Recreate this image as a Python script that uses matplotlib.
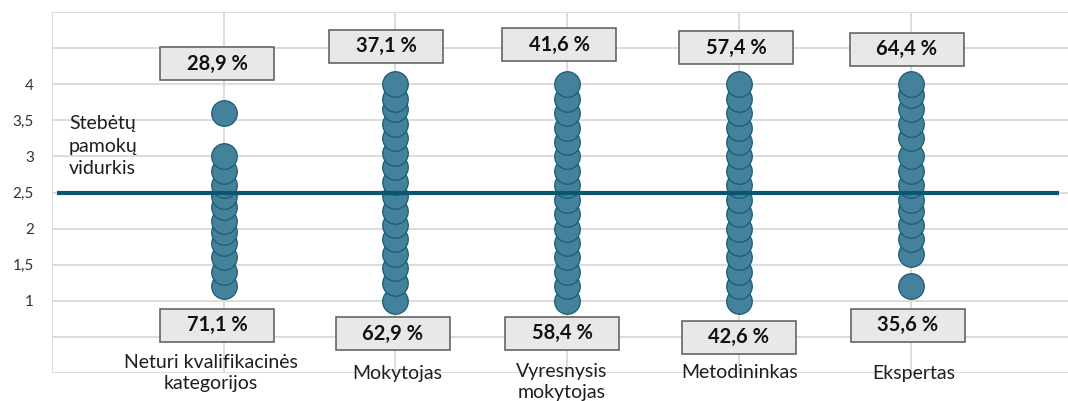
import matplotlib
matplotlib.use("Agg")
import matplotlib.pyplot as plt
from matplotlib.patches import Rectangle

# ---- data ----
categories = ["Neturi kvalifikacinės\nkategorijos", "Mokytojas",
              "Vyresnysis\nmokytojas", "Metodininkas", "Ekspertas"]

scores_neturi = [1.2, 1.4, 1.6, 1.8, 1.95, 2.1, 2.3, 2.45, 2.6, 2.8, 3.0, 3.6]
scores_mokytojas = [1.0, 1.25, 1.45, 1.65, 1.85, 2.05, 2.25, 2.45, 2.65,
                    2.85, 3.05, 3.25, 3.45, 3.65, 3.8, 4.0]
scores_vyresnysis = [1.0, 1.2, 1.4, 1.6, 1.8, 2.0, 2.2, 2.4, 2.6, 2.8,
                     3.0, 3.2, 3.4, 3.6, 3.8, 4.0]
scores_metodininkas = [1.0, 1.2, 1.4, 1.6, 1.8, 2.0, 2.2, 2.4, 2.6, 2.8,
                       3.0, 3.2, 3.4, 3.6, 3.8, 4.0]
scores_ekspertas = [1.2, 1.65, 1.85, 2.05, 2.25, 2.4, 2.6, 2.8, 3.0,
                    3.25, 3.45, 3.65, 3.85, 4.0]

share_above = [28.9, 37.1, 41.6, 57.4, 64.4]
share_below = [71.1, 62.9, 58.4, 42.6, 35.6]

average_score = 2.5
average_label = "Stebėtų\npamokų\nvidurkis"

y_ticks = [0, 0.5, 1, 1.5, 2, 2.5, 3, 3.5, 4, 4.5, 5]
y_tick_labels = ["", "", "1", "1,5", "2", "2,5", "3", "3,5", "4", "", ""]

# ---- layout ----
top_box_pos = [(-0.039, 4.285), (-0.055, 4.528), (-0.047, 4.549),
               (-0.016, 4.507), (-0.023, 4.486)]
bottom_box_pos = [(-0.039, 0.660), (-0.014, 0.542), (-0.030, 0.549),
                  (0.0, 0.493), (-0.015, 0.660)]
cat_label_pos = [(-0.076, 0.0), (0.012, -0.01), (-0.03, -0.13),
                 (0.006, 0.0), (0.017, 0.0)]
BOX_W, BOX_H = 0.664, 0.458

FILL = "#44819b"
EDGE = "#1c5b74"
LINE = "#0b5570"
GRID = "#d9d9d9"
TEXT = "#1e1e1e"
FONT = "Lato"

plt.rcParams["font.family"] = [FONT, "DejaVu Sans"]

fig = plt.figure(figsize=(10.68, 4.01), dpi=100)
ax = fig.add_axes([52 / 1068, 28 / 401, 1016 / 1068, 361 / 401])
ax.set_xlim(0, 1016 / 171.7)
ax.set_ylim(0, 5)

for s in ax.spines.values():
    s.set_visible(False)
ax.set_yticks(y_ticks)
ax.set_yticklabels(y_tick_labels, fontsize=11, color="#333333")
ax.set_xticks(range(0, 6))
ax.set_xticklabels([])
ax.tick_params(length=0, pad=13)
ax.grid(True, color=GRID, linewidth=1.3, zorder=0)
ax.set_axisbelow(True)

series = [scores_neturi, scores_mokytojas, scores_vyresnysis,
          scores_metodininkas, scores_ekspertas]
for i, vals in enumerate(series):
    xpos = i + 1
    for v in sorted(vals):
        ax.plot([xpos], [v], marker="o", markersize=18.4, linestyle="none",
                markerfacecolor=FILL, markeredgecolor=EDGE,
                markeredgewidth=0.9, zorder=3, clip_on=False)

# average line
ax.plot([0.03, 5.865], [average_score, average_score], color=LINE,
        linewidth=3.0, solid_capstyle="butt", zorder=4)
ax.text(0.099, 3.14, average_label, ha="left", va="center", fontsize=14,
        color=TEXT, linespacing=1.38, zorder=5)


def label_box(cx, cy, txt):
    ax.add_patch(Rectangle((cx - BOX_W / 2, cy - BOX_H / 2), BOX_W, BOX_H,
                           facecolor="#e8e8e8", edgecolor="#595959",
                           linewidth=1.1, zorder=6, clip_on=False))
    ax.text(cx, cy, txt, ha="center", va="center", fontsize=14.5,
            fontweight="bold", color="#111111", zorder=7)


for i in range(5):
    xpos = i + 1
    dx, y = top_box_pos[i]
    label_box(xpos + dx, y, f"{share_above[i]:.1f} %".replace(".", ","))
    dx, y = bottom_box_pos[i]
    label_box(xpos + dx, y, f"{share_below[i]:.1f} %".replace(".", ","))
    dx, y = cat_label_pos[i]
    ax.text(xpos + dx, y, categories[i], ha="center", va="center",
            fontsize=14, color=TEXT, linespacing=1.3, zorder=5,
            clip_on=False)

fig.savefig("out.png", dpi=100)
